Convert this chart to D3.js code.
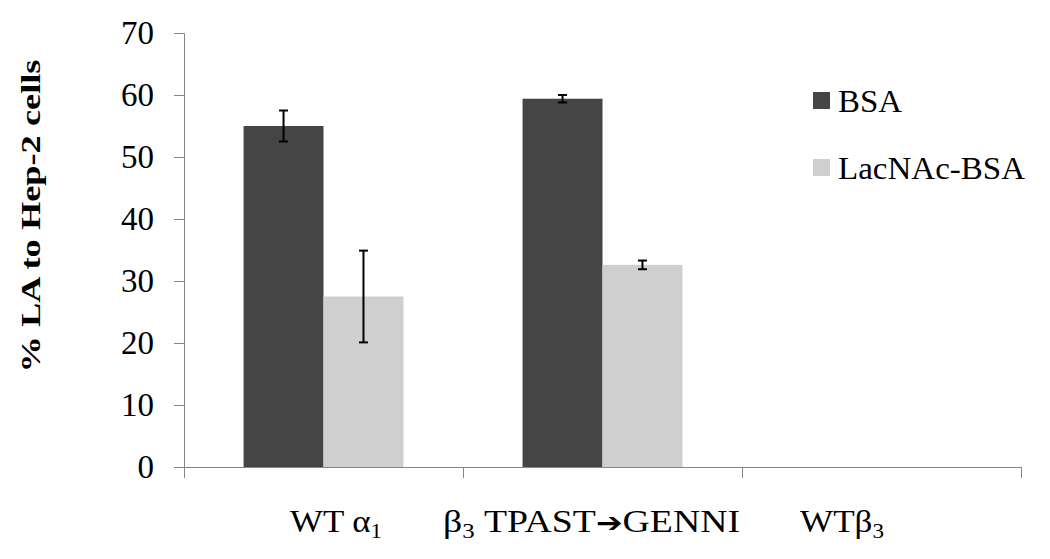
<!DOCTYPE html>
<html>
<head>
<meta charset="utf-8">
<script src="https://cdn.jsdelivr.net/npm/d3@7/dist/d3.min.js"></script>
<style>
  body { margin: 0; background: #fff; }
  svg { display: block; }
  text { font-family: "Liberation Serif", "Times New Roman", serif; fill: #000; }
</style>
</head>
<body>
<svg width="1050" height="559"></svg>
<script>
// data
const categories = ['WT α1', 'β3 TPAST➔GENNI', 'WTβ3'];
const series = ['BSA', 'LacNAc-BSA'];
const bsa = [55.0, 59.4, 0];
const bsaErr = [2.5, 0.6, 0];
const lacnac = [27.5, 32.6, 0];
const lacnacErr = [7.4, 0.7, 0];
const yTicks = [0, 10, 20, 30, 40, 50, 60, 70];

const colors = ['#454545', '#cfcfcf'];
const axisColor = '#868686';
const serif = '"Liberation Serif", "Times New Roman", serif';

const svg = d3.select('svg'),
    margin = {top: 33, left: 184},
    width = 837,
    height = 434;

const g = svg.append('g')
    .attr('transform', 'translate(' + margin.left + ',' + margin.top + ')');

const x0 = d3.scaleBand().domain(categories).range([0, width]);
const bw = x0.bandwidth();
const x1 = d3.scaleBand().domain(series).range([bw * 0.2135, bw * 0.7865]);
const y = d3.scaleLinear().domain([0, 70]).range([height, 0]);

const rows = categories.map((c, i) => ({
  cat: c,
  vals: [
    {s: series[0], v: bsa[i], e: bsaErr[i]},
    {s: series[1], v: lacnac[i], e: lacnacErr[i]}
  ]
}));

// bars
const grp = g.append('g').selectAll('g').data(rows).enter().append('g')
    .attr('transform', d => 'translate(' + x0(d.cat) + ',0)');

grp.selectAll('rect').data(d => d.vals.filter(v => v.v > 0)).enter().append('rect')
    .attr('x', d => x1(d.s))
    .attr('y', d => y(d.v))
    .attr('width', x1.bandwidth())
    .attr('height', d => height - y(d.v))
    .attr('fill', d => colors[series.indexOf(d.s)]);

// error bars
const eb = grp.selectAll('g.err').data(d => d.vals.filter(v => v.v > 0)).enter().append('g')
    .attr('class', 'err')
    .attr('stroke', '#000')
    .attr('stroke-width', 2);
const cx = d => x1(d.s) + x1.bandwidth() / 2;
eb.append('line')
    .attr('x1', cx).attr('x2', cx)
    .attr('y1', d => y(d.v + d.e)).attr('y2', d => y(d.v - d.e));
eb.append('line')
    .attr('x1', d => cx(d) - 4.5).attr('x2', d => cx(d) + 4.5)
    .attr('y1', d => y(d.v + d.e)).attr('y2', d => y(d.v + d.e));
eb.append('line')
    .attr('x1', d => cx(d) - 4.5).attr('x2', d => cx(d) + 4.5)
    .attr('y1', d => y(d.v - d.e)).attr('y2', d => y(d.v - d.e));

// y axis
const yAxis = g.append('g')
    .call(d3.axisLeft(y).tickValues(yTicks).tickSize(10).tickPadding(20).tickFormat(d3.format('d')));
yAxis.select('.domain').attr('stroke', axisColor).attr('d', 'M-10,0.5H0.5V' + (height + 0.5));
yAxis.selectAll('.tick line').attr('stroke', axisColor);
yAxis.selectAll('.tick text')
    .style('font-family', serif)
    .style('font-size', '33px')
    .attr('fill', '#000');

// x axis: baseline with ticks at category boundaries
const xa = g.append('g').attr('transform', 'translate(0,' + height + ')');
xa.append('line')
    .attr('x1', 0).attr('x2', width).attr('y1', 0.5).attr('y2', 0.5)
    .attr('stroke', axisColor);
const bounds = categories.map(c => x0(c)).concat([width]);
xa.selectAll('line.tk').data(bounds).enter().append('line')
    .attr('class', 'tk')
    .attr('x1', d => Math.round(d) + 0.5).attr('x2', d => Math.round(d) + 0.5)
    .attr('y1', 0).attr('y2', 11)
    .attr('stroke', axisColor);

// category labels with subscripts
const labelShift = [12.5, -11, -39.5];
const labelLen = [92, 297, 84];
const lab = xa.selectAll('text.cat').data(categories).enter().append('text')
    .attr('class', 'cat')
    .attr('x', (d, i) => x0(d) + bw / 2 + labelShift[i])
    .attr('y', 65)
    .attr('text-anchor', 'middle')
    .attr('textLength', (d, i) => labelLen[i])
    .attr('lengthAdjust', 'spacingAndGlyphs')
    .style('font-family', serif)
    .style('font-size', '32px');
lab.each(function(d) {
  const t = d3.select(this);
  if (d === categories[0]) {
    t.append('tspan').text('WT α');
    t.append('tspan').attr('dy', 6).style('font-size', '21px').text('1');
  } else if (d === categories[1]) {
    t.append('tspan').text('β');
    t.append('tspan').attr('dy', 6).style('font-size', '21px').text('3');
    t.append('tspan').attr('dy', -6).text(' TPAST');
    t.append('tspan').style('font-family', '"DejaVu Sans", sans-serif').style('font-size', '27px').text('➔');
    t.append('tspan').text('GENNI');
  } else {
    t.append('tspan').text('WTβ');
    t.append('tspan').attr('dy', 6).style('font-size', '21px').text('3');
  }
});

// y title
svg.append('text')
    .attr('transform', 'translate(40,216) rotate(-90)')
    .attr('text-anchor', 'middle')
    .attr('textLength', 313)
    .attr('lengthAdjust', 'spacingAndGlyphs')
    .style('font-family', serif)
    .style('font-size', '28px')
    .style('font-weight', 'bold')
    .text('% LA to Hep-2 cells');

// legend
const legLen = [64, 187];
const leg = svg.append('g').selectAll('g').data(series).enter().append('g')
    .attr('transform', (d, i) => 'translate(813,' + (92 + i * 67) + ')');
leg.append('rect').attr('width', 17).attr('height', 17).attr('fill', (d, i) => colors[i]);
leg.append('text')
    .attr('x', 25).attr('y', 20)
    .attr('textLength', (d, i) => legLen[i])
    .attr('lengthAdjust', 'spacingAndGlyphs')
    .style('font-family', serif)
    .style('font-size', '31px')
    .text(d => d);
</script>
</body>
</html>
